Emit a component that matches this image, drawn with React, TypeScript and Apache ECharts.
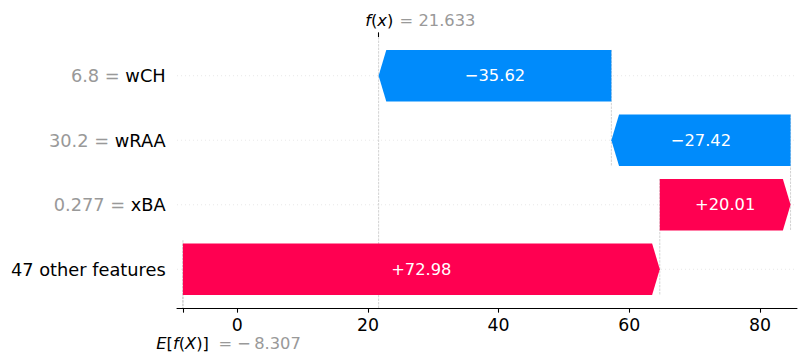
import { useEffect, useRef } from "react";
import * as echarts from "echarts";

// Rows listed top to bottom
const features = ["wCH", "wRAA", "xBA", "47 other features"];
const featureValues = ["6.8", "30.2", "0.277", ""];
const shapValues = [-35.62, -27.42, 20.01, 72.98];
const baseValue = -8.307;
const fxValue = 21.633;
const xTickValues = [0, 20, 40, 60, 80];
const xMin = -9.22;
const xMax = 85.66;
const yMin = -0.6;
const yMax = 3.6;

const POS = "#ff0051";
const NEG = "#008bfb";
const FONT = "DejaVu Sans";
const PT = 96 / 72;
const LABEL_SIZE = 17.8;
const SMALL_SIZE = 16.3;

function fmtSigned(v: number) {
  return (v >= 0 ? "+" : "\u2212") + Math.abs(v).toFixed(2);
}

export default function App() {
  const ref = useRef<HTMLDivElement>(null);
  useEffect(() => {
    const chart = echarts.init(ref.current!, null, { renderer: "svg" });
    const n = features.length;
    const bars: number[][] = [];
    let loc = fxValue;
    for (let i = 0; i < n; i++) {
      const s = shapValues[i];
      loc -= s;
      bars.push([loc, loc + s, n - 1 - i, s, i]);
    }

    const option: any = {
      animation: false,
      backgroundColor: "#ffffff",
      grid: { left: 177, right: 9, top: 37, bottom: 54, containLabel: false },
      xAxis: [
        {
          type: "value",
          min: xMin,
          max: xMax,
          position: "bottom",
          axisLine: { show: true, onZero: false, lineStyle: { color: "#000", width: 0.8 * PT } },
          axisTick: {
            show: true,
            inside: false,
            length: 3.5 * PT,
            customValues: [baseValue, ...xTickValues],
            lineStyle: { color: "#000", width: 0.8 * PT },
          },
          axisLabel: {
            show: true,
            customValues: xTickValues,
            fontSize: 13 * PT,
            fontFamily: FONT,
            color: "#000",
            margin: 8,
          },
          splitLine: { show: false },
        },
        {
          type: "value",
          min: xMin,
          max: xMax,
          position: "top",
          axisLine: { show: false, onZero: false },
          axisTick: {
            show: true,
            inside: false,
            length: 3.5 * PT,
            customValues: [fxValue],
            lineStyle: { color: "#000", width: 0.8 * PT },
          },
          axisLabel: { show: false },
          splitLine: { show: false },
        },
      ],
      yAxis: { type: "value", min: yMin, max: yMax, show: false },
      series: [
        {
          type: "custom",
          silent: true,
          z: 1,
          xAxisIndex: 0,
          data: bars,
          encode: { x: [0, 1], y: 2 },
          renderItem: (params: any, api: any) => {
            const cs = params.coordSys;
            const start = api.value(0);
            const row = api.value(2);
            const yc = api.coord([start, row])[1];
            const xs = api.coord([start, row])[0];
            const yTop = Math.max(api.coord([start, row + 0.4])[1], cs.y);
            const yBot = Math.min(api.coord([start, row - 1.4])[1], cs.y + cs.height);
            return {
              type: "group",
              children: [
                {
                  type: "line",
                  shape: { x1: cs.x, y1: yc, x2: cs.x + cs.width, y2: yc },
                  style: { stroke: "#cccccc", lineWidth: 0.5 * PT, lineDash: [0.5 * PT, 2.5 * PT] },
                },
                {
                  type: "line",
                  shape: { x1: xs, y1: yTop, x2: xs, y2: yBot },
                  style: { stroke: "#bbbbbb", lineWidth: 0.5 * PT, lineDash: [1.85 * PT, 0.8 * PT] },
                },
              ],
            };
          },
        },
        {
          type: "custom",
          silent: true,
          z: 1,
          xAxisIndex: 0,
          data: [[fxValue, baseValue]],
          encode: { x: [0, 1] },
          renderItem: (params: any, api: any) => {
            const cs = params.coordSys;
            const xf = api.coord([api.value(0), 0])[0];
            const xb = api.coord([api.value(1), 0])[0];
            const top = cs.y;
            const bot = cs.y + cs.height;
            const baseLabel = "= \u2212\u2009" + Math.abs(baseValue).toFixed(3);
            const fxLabel = "= " + fxValue.toFixed(3);
            const italic = { fontStyle: "italic", fontFamily: FONT, fontSize: SMALL_SIZE, fill: "#000" };
            const upright = { fontFamily: FONT, fontSize: SMALL_SIZE, fill: "#000" };
            return {
              type: "group",
              children: [
                {
                  type: "line",
                  shape: { x1: xf, y1: top, x2: xf, y2: bot },
                  style: { stroke: "#bbbbbb", lineWidth: 0.5 * PT, lineDash: [1.85 * PT, 0.8 * PT] },
                },
                {
                  type: "line",
                  shape: { x1: xb, y1: bot - cs.height / features.length, x2: xb, y2: bot },
                  style: { stroke: "#bbbbbb", lineWidth: 0.5 * PT, lineDash: [1.85 * PT, 0.8 * PT] },
                },
                {
                  type: "text",
                  x: xf - 10 * PT,
                  y: top - 17,
                  style: {
                    text: "{i|f}{u|(}{i|x}{u|)}",
                    rich: { i: italic, u: upright },
                    align: "left",
                    verticalAlign: "middle",
                    fontFamily: FONT,
                    fontSize: SMALL_SIZE,
                  },
                },
                {
                  type: "text",
                  x: xf + 21,
                  y: top - 17,
                  style: {
                    text: fxLabel,
                    fill: "#999999",
                    fontFamily: FONT,
                    fontSize: SMALL_SIZE,
                    align: "left",
                    verticalAlign: "middle",
                  },
                },
                {
                  type: "text",
                  x: xb - 20 * PT,
                  y: bot + 35.3,
                  style: {
                    text: "{i|E}{u|[}{i|f}{u|(}{i|X}{u|)]}",
                    rich: { i: italic, u: upright },
                    align: "left",
                    verticalAlign: "middle",
                    fontFamily: FONT,
                    fontSize: SMALL_SIZE,
                  },
                },
                {
                  type: "text",
                  x: xb + 35.5,
                  y: bot + 35.3,
                  style: {
                    text: baseLabel,
                    fill: "#999999",
                    fontFamily: FONT,
                    fontSize: SMALL_SIZE,
                    align: "left",
                    verticalAlign: "middle",
                  },
                },
              ],
            };
          },
        },
        {
          type: "custom",
          silent: true,
          z: 2,
          xAxisIndex: 0,
          data: bars,
          encode: { x: [0, 1], y: 2 },
          renderItem: (params: any, api: any) => {
            const cs = params.coordSys;
            const start = api.value(0);
            const end = api.value(1);
            const row = api.value(2);
            const val = api.value(3);
            const idx = api.value(4);
            const [x0, yc] = api.coord([start, row]);
            const x1 = api.coord([end, row])[0];
            const yT = api.coord([start, row + 0.4])[1];
            const yB = api.coord([start, row - 0.4])[1];
            const h = Math.min(0.08 * 96, Math.abs(x1 - x0));
            const dir = x1 >= x0 ? 1 : -1;
            const points = [
              [x0, yT],
              [x1 - dir * h, yT],
              [x1, yc],
              [x1 - dir * h, yB],
              [x0, yB],
            ];
            const valPart = featureValues[idx];
            const labelText = valPart
              ? `{v|${valPart} = }{n|${features[idx]}}`
              : `{n|${features[idx]}}`;
            return {
              type: "group",
              children: [
                {
                  type: "polygon",
                  shape: { points },
                  style: { fill: val >= 0 ? POS : NEG, stroke: "none" },
                },
                {
                  type: "text",
                  x: (x0 + x1) / 2,
                  y: yc,
                  style: {
                    text: fmtSigned(val),
                    fill: "#ffffff",
                    fontFamily: FONT,
                    fontSize: SMALL_SIZE,
                    align: "center",
                    verticalAlign: "middle",
                  },
                },
                {
                  type: "text",
                  x: cs.x - 11.3,
                  y: yc,
                  style: {
                    text: labelText,
                    rich: {
                      v: { fill: "#999999", fontFamily: FONT, fontSize: LABEL_SIZE },
                      n: { fill: "#000000", fontFamily: FONT, fontSize: LABEL_SIZE },
                    },
                    fontFamily: FONT,
                    fontSize: LABEL_SIZE,
                    align: "right",
                    verticalAlign: "middle",
                  },
                },
              ],
            };
          },
        },
      ],
    };
    chart.setOption(option);
    return () => chart.dispose();
  }, []);
  return (
    <div
      ref={ref}
      style={{ position: "fixed", left: 0, top: 0, width: 806, height: 362, background: "#fff" }}
    />
  );
}
